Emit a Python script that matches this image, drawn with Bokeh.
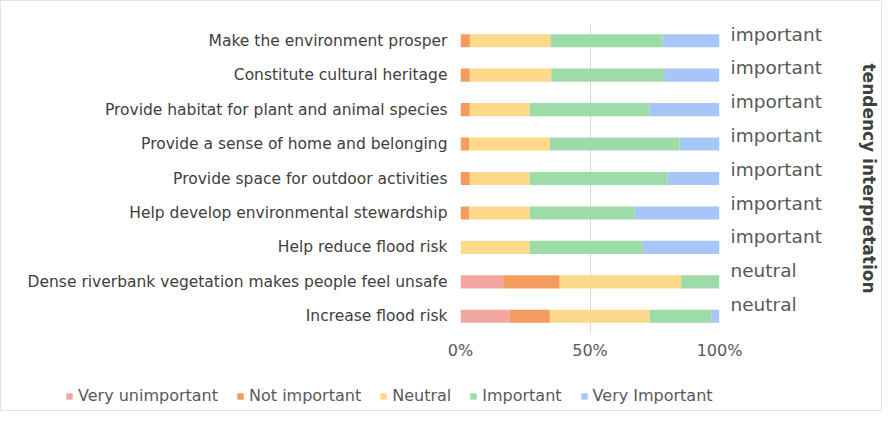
from bokeh.plotting import figure
from bokeh.layouts import column
from bokeh.models import (ColumnDataSource, Range1d, LinearAxis, FixedTicker,
                          NumeralTickFormatter, Legend, LegendItem)
from bokeh.embed import file_html
from bokeh.resources import INLINE

# ---- data (top row first) ----
statements = [
    "Make the environment prosper",
    "Constitute cultural heritage",
    "Provide habitat for plant and animal species",
    "Provide a sense of home and belonging",
    "Provide space for outdoor activities",
    "Help develop environmental stewardship",
    "Help reduce flood risk",
    "Dense riverbank vegetation makes people feel unsafe",
    "Increase flood risk",
]
tendency = ["important", "important", "important", "important", "important",
            "important", "important", "neutral", "neutral"]
levels = ["Very unimportant", "Not important", "Neutral", "Important", "Very Important"]
very_unimportant = [0.0, 0.0, 0.0, 0.0, 0.0, 0.0, 0.0, 16.5, 19.0]
not_important = [3.6, 3.6, 3.6, 3.3, 3.6, 3.4, 0.0, 21.8, 15.5]
neutral = [31.1, 31.4, 23.1, 31.2, 23.1, 23.3, 26.7, 46.9, 38.5]
important = [43.4, 43.6, 46.3, 50.1, 53.3, 40.5, 43.7, 14.8, 23.8]
very_important = [21.9, 21.4, 27.0, 15.4, 20.0, 32.8, 29.6, 0.0, 3.2]
x_ticks = [0, 0.5, 1.0]

colors = ["#F4A7A0", "#F39C5E", "#FDD98B", "#9DDCA9", "#A8C5F7"]
keys = ["vu", "ni", "ne", "im", "vi"]

n = len(statements)
ypos = [n - 1 - i for i in range(n)]
source = ColumnDataSource(dict(
    y=ypos,
    vu=[v / 100 for v in very_unimportant],
    ni=[v / 100 for v in not_important],
    ne=[v / 100 for v in neutral],
    im=[v / 100 for v in important],
    vi=[v / 100 for v in very_important],
))

p = figure(width=880, height=366, output_backend="svg", toolbar_location=None,
           x_range=Range1d(0, 1), y_range=Range1d(-0.5, n - 0.5),
           min_border_left=459, min_border_right=161,
           min_border_top=22, min_border_bottom=34,
           y_axis_location=None)
p.outline_line_color = None
p.background_fill_color = "white"
p.border_fill_color = "white"

renderers = p.hbar_stack(keys, y="y", height=0.38, color=colors,
                         line_color=None, source=source)

# grid
p.ygrid.visible = False
p.xgrid.ticker = FixedTicker(ticks=x_ticks)
p.xgrid.grid_line_color = "#d9d9d9"
p.xgrid.grid_line_width = 1

# x axis
xa = p.xaxis[0]
xa.ticker = FixedTicker(ticks=x_ticks)
xa.formatter = NumeralTickFormatter(format="0%")
xa.axis_line_color = None
xa.major_tick_line_color = None
xa.minor_tick_line_color = None
xa.major_label_standoff = 1
xa.major_label_text_font = "DejaVu Sans"
xa.major_label_text_font_size = "16px"
xa.major_label_text_color = "#595959"

# left axis with statements
ya = LinearAxis(ticker=FixedTicker(ticks=ypos),
                major_label_overrides={ypos[i]: statements[i] for i in range(n)})
ya.axis_line_color = None
ya.major_tick_line_color = None
ya.minor_tick_line_color = None
ya.major_label_standoff = 7
ya.major_label_text_font = "DejaVu Sans"
ya.major_label_text_font_size = "15.5px"
ya.major_label_text_color = "#404040"
p.add_layout(ya, "left")

# right axis with tendency interpretation
p.extra_y_ranges = {"r": Range1d(-0.86, 8.316)}
ra = LinearAxis(y_range_name="r", ticker=FixedTicker(ticks=ypos),
                major_label_overrides={ypos[i]: tendency[i] for i in range(n)},
                axis_label="tendency interpretation")
ra.axis_line_color = None
ra.major_tick_line_color = None
ra.minor_tick_line_color = None
ra.major_label_standoff = 5
ra.major_label_text_font = "DejaVu Sans"
ra.major_label_text_font_size = "18.5px"
ra.major_label_text_color = "#595959"
ra.axis_label_text_font = "DejaVu Sans"
ra.axis_label_text_font_size = "17px"
ra.axis_label_text_font_style = "bold"
ra.axis_label_text_color = "#404040"
ra.axis_label_standoff = 34
p.add_layout(ra, "right")

# legend strip below the chart
lf = figure(width=880, height=43, output_backend="svg", toolbar_location=None,
            x_range=Range1d(0, 1), y_range=Range1d(0, 1),
            min_border=0, x_axis_location=None, y_axis_location=None)
lf.frame_align = False
lf.outline_line_color = None
lf.xgrid.visible = False
lf.ygrid.visible = False
lf.background_fill_color = "white"
lf.border_fill_color = "white"
legend_renderers = [lf.hbar(y=[-10], left=[0], right=[0], height=0.5, color=c,
                            line_color=None) for c in colors]
items = [LegendItem(label=levels[i], renderers=[legend_renderers[i]]) for i in range(5)]
legend = Legend(items=items, orientation="horizontal", location=(64, 5),
                glyph_width=8, glyph_height=8, label_standoff=5, spacing=18,
                padding=0, margin=0, border_line_color=None,
                background_fill_alpha=0,
                label_text_font="DejaVu Sans", label_text_font_size="16px",
                label_text_color="#595959")
lf.add_layout(legend, "center")

layout = column(p, lf, spacing=0)
layout.styles = {"border": "1px solid #e4e4e4"}

open("out.html", "w").write(file_html(layout, INLINE))
